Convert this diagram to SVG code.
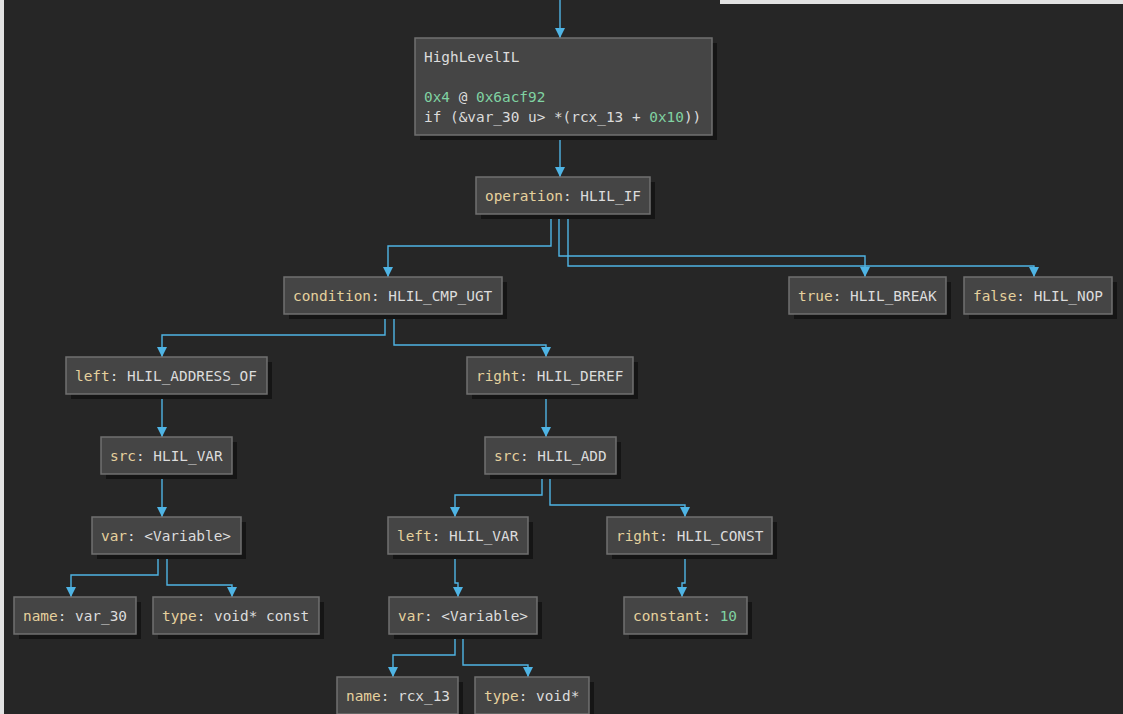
<svg xmlns="http://www.w3.org/2000/svg" width="1123" height="714" viewBox="0 0 1123 714">
<style>
.bg{fill:#262626}
.sh{fill:#151515}
.bx{fill:#454545;stroke:#707070;stroke-width:1.5}
text{font-family:"DejaVu Sans Mono","Liberation Mono",monospace;font-size:14.4px;fill:#dcdcdc}
.k{fill:#e5d19d}
.n{fill:#80d2a2}
.e{fill:none;stroke:#4fb4e4;stroke-width:1.4;marker-end:url(#arr)}
</style>
<defs>
<marker id="arr" viewBox="0 0 10 10" refX="10" refY="5" markerWidth="10" markerHeight="10" markerUnits="userSpaceOnUse" orient="auto">
<path d="M0,0 L10,5 L0,10 z" fill="#4fb4e4"/>
</marker>
</defs>
<rect x="0" y="0" width="1123" height="714" fill="#e2e2e2"/>
<rect class="bg" x="4" y="0" width="1119" height="714"/>
<rect x="720" y="0" width="403" height="4" fill="#e2e2e2"/>

<g id="connectors">
<polyline class="e" points="560,0 560,38"/>
<polyline class="e" points="560,135 560,177"/>
<polyline class="e" points="551,214 551,246 388,246 388,277"/>
<polyline class="e" points="559,214 559,256 865,256 865,277"/>
<polyline class="e" points="568,214 568,266 1034,266 1034,277"/>
<polyline class="e" points="385,314 385,335 162,335 162,357"/>
<polyline class="e" points="394,314 394,345 546,345 546,357"/>
<polyline class="e" points="162,394 162,437"/>
<polyline class="e" points="546,394 546,437"/>
<polyline class="e" points="162,474 162,517"/>
<polyline class="e" points="158,554 158,575 71,575 71,597"/>
<polyline class="e" points="167,554 167,585 232,585 232,597"/>
<polyline class="e" points="542,474 542,495 455,495 455,517"/>
<polyline class="e" points="550,474 550,505 685,505 685,517"/>
<polyline class="e" points="455,554 455,583 458,583 458,597"/>
<polyline class="e" points="685,554 685,583 682,583 682,597"/>
<polyline class="e" points="455,634 455,655 393,655 393,677"/>
<polyline class="e" points="463,634 463,665 528,665 528,677"/>
</g>

<g id="n-hlil">
<rect class="sh" x="420" y="43" width="297" height="97"/>
<rect class="bx" x="415" y="38" width="297" height="97"/>
<text x="424" y="62">HighLevelIL</text>
<text x="424" y="102"><tspan class="n">0x4</tspan> @ <tspan class="n">0x6acf92</tspan></text>
<text x="424" y="122">if (&amp;var_30 u&gt; *(rcx_13 + <tspan class="n">0x10</tspan>))</text>
</g>

<g id="n-op">
<rect class="sh" x="481" y="182" width="174" height="37"/>
<rect class="bx" x="476" y="177" width="174" height="37"/>
<text x="485" y="201"><tspan class="k">operation</tspan>: HLIL_IF</text>
</g>

<g id="n-cond">
<rect class="sh" x="289" y="282" width="218" height="37"/>
<rect class="bx" x="284" y="277" width="218" height="37"/>
<text x="293" y="301"><tspan class="k">condition</tspan>: HLIL_CMP_UGT</text>
</g>

<g id="n-true">
<rect class="sh" x="794" y="282" width="157" height="37"/>
<rect class="bx" x="789" y="277" width="157" height="37"/>
<text x="798" y="301"><tspan class="k">true</tspan>: HLIL_BREAK</text>
</g>

<g id="n-false">
<rect class="sh" x="969" y="282" width="148" height="37"/>
<rect class="bx" x="964" y="277" width="148" height="37"/>
<text x="973" y="301"><tspan class="k">false</tspan>: HLIL_NOP</text>
</g>

<g id="n-left">
<rect class="sh" x="71" y="362" width="201" height="37"/>
<rect class="bx" x="66" y="357" width="201" height="37"/>
<text x="75" y="381"><tspan class="k">left</tspan>: HLIL_ADDRESS_OF</text>
</g>

<g id="n-right">
<rect class="sh" x="472" y="362" width="166" height="37"/>
<rect class="bx" x="467" y="357" width="166" height="37"/>
<text x="476" y="381"><tspan class="k">right</tspan>: HLIL_DEREF</text>
</g>

<g id="n-src1">
<rect class="sh" x="106" y="442" width="131" height="37"/>
<rect class="bx" x="101" y="437" width="131" height="37"/>
<text x="110" y="461"><tspan class="k">src</tspan>: HLIL_VAR</text>
</g>

<g id="n-src2">
<rect class="sh" x="490" y="442" width="131" height="37"/>
<rect class="bx" x="485" y="437" width="131" height="37"/>
<text x="494" y="461"><tspan class="k">src</tspan>: HLIL_ADD</text>
</g>

<g id="n-var1">
<rect class="sh" x="97" y="522" width="149" height="37"/>
<rect class="bx" x="92" y="517" width="149" height="37"/>
<text x="101" y="541"><tspan class="k">var</tspan>: &lt;Variable&gt;</text>
</g>

<g id="n-leftvar">
<rect class="sh" x="393" y="522" width="140" height="37"/>
<rect class="bx" x="388" y="517" width="140" height="37"/>
<text x="397" y="541"><tspan class="k">left</tspan>: HLIL_VAR</text>
</g>

<g id="n-rightconst">
<rect class="sh" x="612" y="522" width="165" height="37"/>
<rect class="bx" x="607" y="517" width="165" height="37"/>
<text x="616" y="541"><tspan class="k">right</tspan>: HLIL_CONST</text>
</g>

<g id="n-name1">
<rect class="sh" x="19" y="602" width="122" height="37"/>
<rect class="bx" x="14" y="597" width="122" height="37"/>
<text x="23" y="621"><tspan class="k">name</tspan>: var_30</text>
</g>

<g id="n-type1">
<rect class="sh" x="158" y="602" width="166" height="37"/>
<rect class="bx" x="153" y="597" width="166" height="37"/>
<text x="162" y="621"><tspan class="k">type</tspan>: void* const</text>
</g>

<g id="n-var2">
<rect class="sh" x="394" y="602" width="148" height="37"/>
<rect class="bx" x="389" y="597" width="148" height="37"/>
<text x="398" y="621"><tspan class="k">var</tspan>: &lt;Variable&gt;</text>
</g>

<g id="n-constant">
<rect class="sh" x="629" y="602" width="123" height="37"/>
<rect class="bx" x="624" y="597" width="123" height="37"/>
<text x="633" y="621"><tspan class="k">constant</tspan>: <tspan class="n">10</tspan></text>
</g>

<g id="n-name2">
<rect class="sh" x="342" y="682" width="121" height="37"/>
<rect class="bx" x="337" y="677" width="121" height="37"/>
<text x="346" y="701"><tspan class="k">name</tspan>: rcx_13</text>
</g>

<g id="n-type2">
<rect class="sh" x="480" y="682" width="114" height="37"/>
<rect class="bx" x="475" y="677" width="114" height="37"/>
<text x="484" y="701"><tspan class="k">type</tspan>: void*</text>
</g>
</svg>
